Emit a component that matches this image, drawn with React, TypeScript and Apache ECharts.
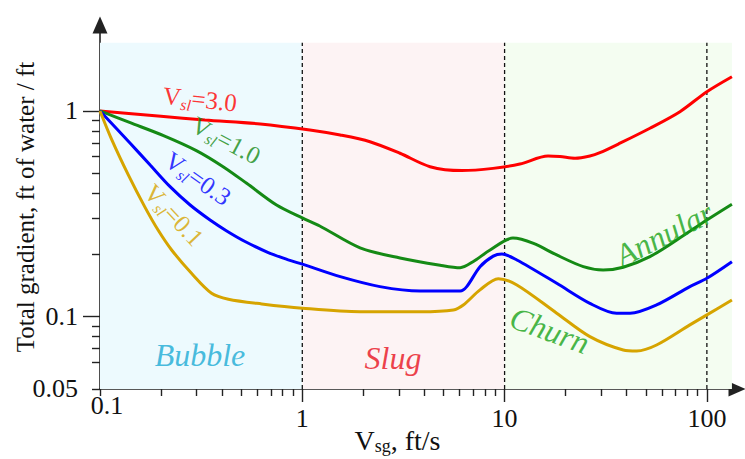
import React, { useEffect, useRef } from 'react';
import * as echarts from 'echarts';

const FONT = '"Liberation Serif", "Times New Roman", serif';

// ---- data (x: Vsg ft/s, y: total gradient ft of water / ft) ----
const redVsg = [0.1, 0.2, 0.33, 0.62, 1.09, 1.54, 2.16, 3.04, 4.28, 6.15, 8.77, 11.9, 16.4, 18.8, 22.3, 26.4, 29.6, 37.2, 52.3, 73.6, 100, 133];
const redGrad = [1.0, 0.943, 0.904, 0.865, 0.808, 0.764, 0.709, 0.623, 0.536, 0.513, 0.526, 0.552, 0.604, 0.6, 0.589, 0.604, 0.627, 0.697, 0.824, 0.992, 1.241, 1.468];

const greenVsg = [0.1, 0.141, 0.206, 0.301, 0.406, 0.531, 0.746, 1.0, 1.22, 1.93, 3.04, 4.8, 6.03, 6.98, 8.48, 11.0, 13.9, 18.1, 24.5, 30.7, 38.6, 52.3, 71.0, 100, 133];
const greenGrad = [1.0, 0.877, 0.759, 0.64, 0.536, 0.445, 0.349, 0.302, 0.276, 0.216, 0.193, 0.178, 0.173, 0.185, 0.211, 0.241, 0.227, 0.1995, 0.175, 0.1686, 0.174, 0.196, 0.236, 0.295, 0.352];

const blueVsg = [0.1, 0.141, 0.177, 0.222, 0.279, 0.35, 0.423, 0.521, 0.679, 0.853, 1.0, 1.54, 2.42, 3.82, 6.03, 6.5, 7.56, 8.79, 9.7, 11.5, 18.1, 26.4, 35.8, 41.7, 56.4, 82.4, 100, 133];
const blueGrad = [1.0, 0.697, 0.546, 0.4285, 0.349, 0.295, 0.261, 0.232, 0.205, 0.189, 0.18, 0.1565, 0.14, 0.1333, 0.1333, 0.14, 0.175, 0.197, 0.2018, 0.1886, 0.1453, 0.1161, 0.1039, 0.1039, 0.114, 0.14, 0.1537, 0.185];

const goldVsg = [0.1, 0.114, 0.138, 0.167, 0.194, 0.226, 0.284, 0.356, 0.431, 0.63, 1.0, 1.93, 3.82, 5.58, 6.25, 7.56, 9.31, 11.5, 18.1, 26.4, 38.6, 45.0, 56.4, 82.4, 100, 133];
const goldGrad = [1.0, 0.73, 0.489, 0.34, 0.263, 0.211, 0.162, 0.13, 0.1216, 0.1153, 0.1099, 0.1057, 0.1057, 0.1078, 0.114, 0.135, 0.153, 0.1426, 0.104, 0.08, 0.0689, 0.0681, 0.0728, 0.0912, 0.102, 0.1206];

const vslValues = ['3.0', '1.0', '0.3', '0.1'];
const regimeNames = ['Bubble', 'Slug', 'Churn', 'Annular'];
const regimeBounds = [0.1, 1, 10, 133];
const dividerVsg = [1, 10, 100];

const xMajorTicks = [1, 10, 100];
const xMinorTicks = [0.1001, 0.2, 0.3, 0.4, 0.5, 0.6, 0.7, 0.8, 0.9, 2, 3, 4, 5, 6, 7, 8, 9, 20, 30, 40, 50, 60, 70, 80, 90];
const yMajorTicks = [0.1, 1];
const yMinorTicks = [0.04456, 0.06, 0.07, 0.08, 0.09, 0.2, 0.3, 0.4, 0.5, 0.6, 0.7, 0.8, 0.9];

// ---- axis extents ----
const X_MIN = 0.1;
const X_MAX = 140.9;
const Y_MIN = 0.0445;
const Y_MAX = 2.618;
const BG_TOP = 2.148;

// ---- annotation anchors (data coords) & styles ----
const curveColors = ['#ff0000', '#158a15', '#0000ff', '#d6a400'];
const curveLabelAt = [[0.312, 1.14], [0.42, 0.72], [0.305, 0.47], [0.232, 0.312]];
const curveLabelRot = [-6, -28, -35, -47];
const regimeColors = ['#1aaad4', '#e8101c', '#18a318', '#18a318'];
const regimeBg = ['#edfafe', '#fdf3f4', '#f4fdf1'];
const regimeLabelAt = [[0.312, 0.0651], [2.81, 0.063], [16.7, 0.0861], [61.4, 0.2523]];
const regimeLabelRot = [0, 0, -20, 27];

const axisColor = '#222';
const textColor = '#111';

function pairs(xs: number[], ys: number[]) {
  return xs.map((x, i) => [x, ys[i]]);
}

function App() {
  const ref = useRef<HTMLDivElement>(null);
  useEffect(() => {
    document.body.style.margin = '0';
    const chart = echarts.init(ref.current!, null, { renderer: 'svg' });

    const curves = [
      pairs(redVsg, redGrad),
      pairs(greenVsg, greenGrad),
      pairs(blueVsg, blueGrad),
      pairs(goldVsg, goldGrad),
    ];

    const series: any[] = [];
    series.push({
      type: 'line',
      data: [],
      silent: true,
      z: 0,
      markArea: {
        silent: true,
        label: { show: false },
        data: regimeBg.map((c, i) => [
          { xAxis: regimeBounds[i], yAxis: Y_MIN, itemStyle: { color: c } },
          { xAxis: regimeBounds[i + 1], yAxis: BG_TOP },
        ]),
      },
    });
    dividerVsg.forEach((x) => {
      series.push({
        type: 'line',
        data: [[x, Y_MIN], [x, BG_TOP]],
        symbol: 'none',
        silent: true,
        z: 2,
        lineStyle: { color: '#111', width: 1.3, type: [4, 3] },
      });
    });
    curves.forEach((d, i) => {
      series.push({
        type: 'line',
        data: d,
        symbol: 'none',
        smooth: 0.3,
        z: 3,
        lineStyle: { color: curveColors[i], width: 3 },
      });
    });
    series.push({
      type: 'scatter',
      symbolSize: 1,
      itemStyle: { color: 'rgba(0,0,0,0)' },
      silent: true,
      z: 4,
      data: vslValues.map((v, i) => ({
        value: curveLabelAt[i],
        label: {
          show: true,
          position: 'inside',
          rotate: curveLabelRot[i],
          formatter: `{v|V}{s|sl}{v|=${v}}`,
          rich: {
            v: { fontSize: 25, fontFamily: FONT, color: curveColors[i], lineHeight: 30, verticalAlign: 'middle' },
            s: { fontSize: 16, fontFamily: FONT, fontStyle: 'italic', color: curveColors[i], lineHeight: 14, verticalAlign: 'bottom' },
          },
        },
      })),
    });
    series.push({
      type: 'scatter',
      symbolSize: 1,
      itemStyle: { color: 'rgba(0,0,0,0)' },
      silent: true,
      z: 4,
      data: regimeNames.map((n, i) => ({
        value: regimeLabelAt[i],
        label: {
          show: true,
          position: 'inside',
          rotate: regimeLabelRot[i],
          formatter: n,
          fontSize: 32,
          fontStyle: 'italic',
          fontFamily: FONT,
          color: regimeColors[i],
        },
      })),
    });

    const tickLabelStyle = { fontSize: 26, fontFamily: FONT, color: textColor };
    const gridBox = { left: 100, right: 8, top: 25, bottom: 70, containLabel: false, outerBoundsMode: 'none' };

    const option: any = {
      animation: false,
      grid: [{ ...gridBox }, { ...gridBox }],
      xAxis: [
        {
          type: 'log',
          gridIndex: 0,
          min: X_MIN,
          max: X_MAX,
          axisLine: {
            show: true,
            symbol: ['none', 'triangle'],
            symbolSize: [15, 17],
            lineStyle: { color: axisColor, width: 1.6 },
          },
          axisTick: { show: true, length: 13, customValues: xMajorTicks, lineStyle: { color: axisColor, width: 1.4 } },
          axisLabel: {
            show: true,
            customValues: xMajorTicks,
            margin: 16,
            ...tickLabelStyle,
            formatter: (v: number) => String(Math.round(v)),
          },
          splitLine: { show: false },
          minorTick: { show: false },
          name: '{v|V}{s|sg}{v|, ft/s}',
          nameLocation: 'middle',
          nameGap: 36,
          nameMoveOverlap: false,
          nameTextStyle: {
            padding: [0, 42, 0, 0],
            rich: {
              v: { fontSize: 28, fontFamily: FONT, color: textColor, lineHeight: 30, verticalAlign: 'middle' },
              s: { fontSize: 18, fontFamily: FONT, color: textColor, lineHeight: 14, verticalAlign: 'bottom' },
            },
          },
        },
        {
          type: 'log',
          gridIndex: 1,
          min: X_MIN,
          max: X_MAX,
          axisLine: { show: false },
          axisTick: { show: true, length: 7, customValues: xMinorTicks, lineStyle: { color: axisColor, width: 1.4 } },
          axisLabel: {
            show: true,
            customValues: [0.1001],
            margin: 3,
            formatter: () => '{a|0.1}',
            rich: { a: { ...tickLabelStyle, padding: [0, 0, 0, 14] } },
          },
          splitLine: { show: false },
        },
      ],
      yAxis: [
        {
          type: 'log',
          gridIndex: 0,
          min: Y_MIN,
          max: Y_MAX,
          axisLine: {
            show: true,
            symbol: ['none', 'triangle'],
            symbolSize: [15, 17],
            lineStyle: { color: axisColor, width: 1.6 },
          },
          axisTick: { show: true, length: 17, customValues: yMajorTicks, lineStyle: { color: axisColor, width: 1.4 } },
          axisLabel: {
            show: true,
            customValues: [0.04456, 0.1, 1],
            margin: 22,
            ...tickLabelStyle,
            formatter: (v: number) => (v < 0.06 ? '0.05' : v < 0.5 ? '0.1' : '1'),
          },
          splitLine: { show: false },
          minorTick: { show: false },
          name: 'Total gradient, ft of water / ft',
          nameLocation: 'middle',
          nameGap: 62,
          nameRotate: 90,
          nameMoveOverlap: false,
          nameTextStyle: { fontSize: 25, fontFamily: FONT, color: textColor },
        },
        {
          type: 'log',
          gridIndex: 1,
          min: Y_MIN,
          max: Y_MAX,
          axisLine: { show: false },
          axisTick: { show: true, length: 8, customValues: yMinorTicks, lineStyle: { color: axisColor, width: 1.4 } },
          axisLabel: { show: false },
          splitLine: { show: false },
        },
      ],
      series,
    };

    chart.setOption(option);
    return () => chart.dispose();
  }, []);

  return (
    <div
      ref={ref}
      style={{ position: 'fixed', left: 0, top: 0, width: 745, height: 459, background: '#fff' }}
    />
  );
}

export default App;
